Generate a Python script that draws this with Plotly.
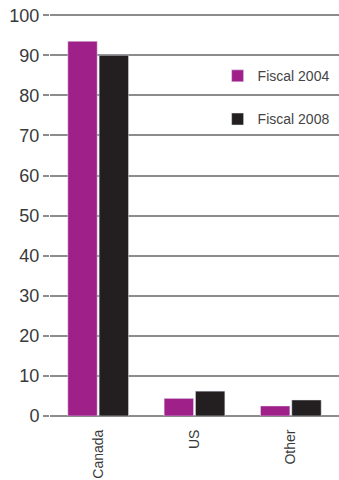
import plotly.graph_objects as go

categories = ["Canada", "US", "Other"]
fiscal_2004 = [93.5, 4.4, 2.5]
fiscal_2008 = [90.0, 6.2, 4.0]
y_ticks = [0, 10, 20, 30, 40, 50, 60, 70, 80, 90, 100]

fig = go.Figure()
fig.add_trace(go.Bar(name="Fiscal 2004", x=categories, y=fiscal_2004,
                     marker_color="#a0208a", legendgroup="a"))
fig.add_trace(go.Bar(name="Fiscal 2008", x=categories, y=fiscal_2008,
                     marker_color="#231f20", legendgroup="b"))

fig.update_layout(
    width=339, height=480,
    margin=dict(l=50, r=0, t=14, b=64),
    paper_bgcolor="white", plot_bgcolor="white",
    barmode="group", bargap=0.35, bargroupgap=0.06,
    font=dict(family="Liberation Sans, Arial, sans-serif", color="#3a3a3a"),
    showlegend=True,
    legend=dict(x=0.58, y=0.885, xanchor="left", yanchor="top",
                bgcolor="rgba(0,0,0,0)", font=dict(size=14, color="#444444"),
                tracegroupgap=22, traceorder="grouped"),
    xaxis=dict(range=[-0.5, 2.5], tickangle=-90, tickfont=dict(size=14),
               showgrid=False, showline=False, ticks="outside",
               ticklen=7, tickcolor="rgba(0,0,0,0)", automargin=False),
    yaxis=dict(range=[0, 100.3], tickvals=y_ticks, tickfont=dict(size=18),
               showgrid=True, gridcolor="#8c8c8c", gridwidth=1.5,
               zeroline=True, zerolinecolor="#8c8c8c", zerolinewidth=1.5,
               ticks="outside", ticklen=6, tickcolor="#8c8c8c", tickwidth=1.5,
               showline=False, automargin=False),
)

fig.write_html("out.html")
